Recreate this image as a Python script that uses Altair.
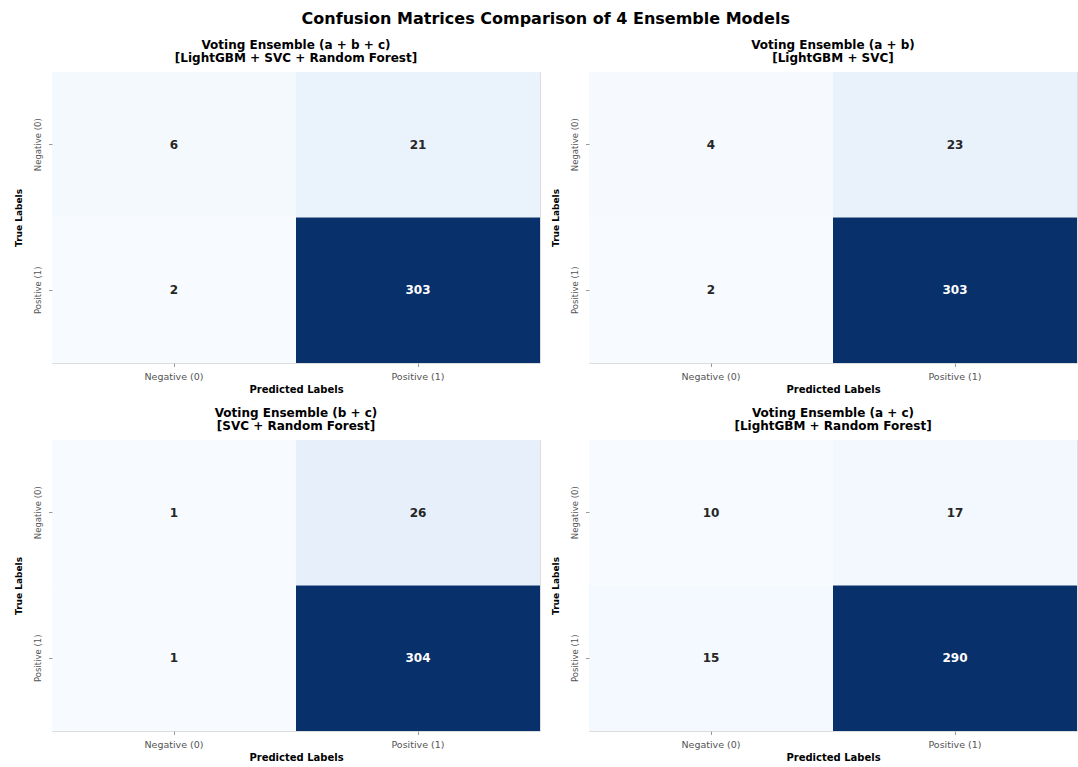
import altair as alt
import pandas as pd

main_title = "Confusion Matrices Comparison of 4 Ensemble Models"
panel_titles = [
    ["Voting Ensemble (a + b + c)", "[LightGBM + SVC + Random Forest]"],
    ["Voting Ensemble (a + b)", "[LightGBM + SVC]"],
    ["Voting Ensemble (b + c)", "[SVC + Random Forest]"],
    ["Voting Ensemble (a + c)", "[LightGBM + Random Forest]"],
]
class_labels = ["Negative (0)", "Positive (1)"]
# values in order: (true Neg, pred Neg), (true Neg, pred Pos), (true Pos, pred Neg), (true Pos, pred Pos)
cm_abc = [6, 21, 2, 303]
cm_ab = [4, 23, 2, 303]
cm_bc = [1, 26, 1, 304]
cm_ac = [10, 17, 15, 290]
matrices = [cm_abc, cm_ab, cm_bc, cm_ac]

blues_stops = [0, 0.125, 0.25, 0.375, 0.5, 0.625, 0.75, 0.875, 1]
blues_colors = ["#f7fbff", "#deebf7", "#c6dbef", "#9ecae1", "#6baed6",
                "#4292c6", "#2171b5", "#08519c", "#08306b"]

FONT = "DejaVu Sans"
W, H = 488, 291


def panel(i):
    cm = matrices[i]
    rows = []
    k = 0
    for t in class_labels:
        for p in class_labels:
            rows.append({"true": t, "pred": p, "count": cm[k]})
            k += 1
    df = pd.DataFrame(rows)
    base = alt.Chart(df).transform_joinaggregate(
        vmin="min(count)", vmax="max(count)"
    ).transform_calculate(
        norm="(datum.count - datum.vmin) / (datum.vmax - datum.vmin)"
    )
    x = alt.X("pred:N", sort=class_labels, title="Predicted Labels",
              axis=alt.Axis(labelAngle=0, domain=False, tickSize=3.5, tickColor="#999",
                            labelFontSize=9.5, labelColor="#555", labelFont=FONT,
                            labelPadding=5, titleFont=FONT, titleFontSize=10,
                            titleFontWeight="bold", titleColor="#000", titlePadding=3))
    y = alt.Y("true:N", sort=class_labels, title="True Labels",
              axis=alt.Axis(labelAngle=-90, domain=False, tickSize=3.5, tickColor="#999",
                            labelFontSize=8.5, labelColor="#555", labelFont=FONT,
                            labelPadding=6, titleFont=FONT, titleFontSize=9,
                            titleFontWeight="bold", titleColor="#000", titlePadding=10))
    rect = base.mark_rect().encode(
        x=x, y=y,
        color=alt.Color("norm:Q", legend=None,
                        scale=alt.Scale(domain=blues_stops, range=blues_colors)),
    )
    text = base.mark_text(font=FONT, fontSize=12, fontWeight="bold").encode(
        x=alt.X("pred:N", sort=class_labels),
        y=alt.Y("true:N", sort=class_labels),
        text="count:Q",
        color=alt.condition("datum.norm > 0.5", alt.value("#ffffff"), alt.value("#262626")),
    )
    return alt.layer(rect, text).properties(
        width=W, height=H,
        title=alt.TitleParams(panel_titles[i], font=FONT, fontSize=12, fontWeight="bold",
                              color="#000", anchor="middle", lineHeight=13, offset=7),
    )


chart = alt.concat(
    panel(0), panel(1), panel(2), panel(3),
    columns=2, spacing={"row": 77, "column": 49},
    bounds="flush",
).properties(
    title=alt.TitleParams(main_title, font=FONT, fontSize=16, fontWeight="bold",
                          color="#000", anchor="middle", offset=12),
    padding={"left": 14, "top": 10, "right": 0, "bottom": 0},
).configure_view(stroke=None).configure(background="white")

chart.save("out.html", embed_options={"renderer": "svg", "actions": False})
